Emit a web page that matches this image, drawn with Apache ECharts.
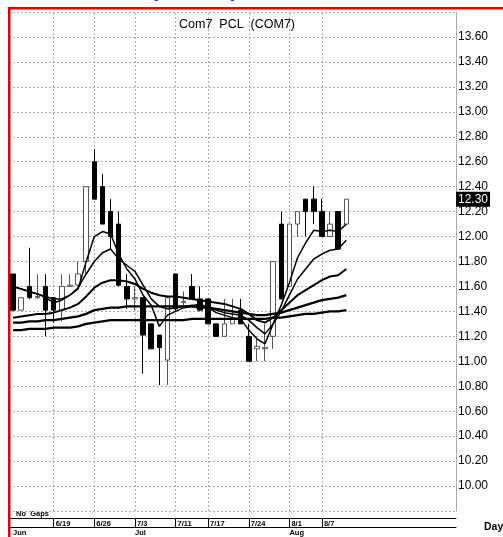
<!DOCTYPE html>
<html>
<head>
<meta charset="utf-8">
<script src="https://cdn.jsdelivr.net/npm/echarts@6/dist/echarts.min.js"></script>
<style>
  html, body { margin: 0; padding: 0; background: #fff; }
  #chart { width: 503px; height: 537px; }
</style>
</head>
<body>
<div id="chart"></div>
<script>
// trading days shown, then empty days to the right edge
const dates = ['6/12','6/13','6/14','6/15','6/16','6/19','6/20','6/21','6/22','6/23',
  '6/26','6/27','6/28','6/29','6/30','7/3','7/4','7/5','7/6','7/7',
  '7/11','7/12','7/13','7/14','7/17','7/18','7/19','7/20','7/21','7/24',
  '7/25','7/26','7/27','7/31','8/1','8/2','8/3','8/4','8/7','8/8','8/9','8/10'];
const padDates = ['8/11','8/15','8/16','8/17','8/18','8/21','8/22','8/23','8/24','8/25','8/28','8/29','8/30'];

const opens  = [11.70,11.41,11.60,11.51,11.60,11.51,11.41,11.60,11.61,11.80,
  12.60,12.40,12.20,12.10,11.60,11.50,11.51,11.30,11.21,11.01,
  11.70,11.47,11.60,11.50,11.50,11.30,11.20,11.30,11.41,11.20,
  11.10,11.10,11.20,12.10,11.60,12.10,12.30,12.30,12.20,12.00,12.20,12.10];
const closes = [11.41,11.51,11.51,11.52,11.41,11.41,11.60,11.61,11.70,12.40,
  12.30,12.10,12.00,11.61,11.50,11.51,11.21,11.10,11.11,11.51,
  11.42,11.48,11.50,11.41,11.30,11.20,11.30,11.34,11.30,11.00,
  11.12,11.11,11.80,11.50,12.10,12.20,12.20,12.20,12.00,12.10,11.90,12.30];
const lows   = [11.40,11.41,11.50,11.50,11.20,11.31,11.32,11.60,11.60,11.70,
  12.30,12.10,11.90,11.60,11.42,11.41,10.90,11.10,10.81,10.81,
  11.40,11.44,11.50,11.40,11.30,11.20,11.20,11.30,11.30,11.00,
  11.00,11.00,11.10,11.50,11.60,12.00,12.00,12.10,12.00,12.00,11.90,12.10];
const highs  = [11.70,11.51,11.91,11.70,11.70,11.51,11.70,11.70,11.80,12.40,
  12.70,12.50,12.30,12.20,11.70,11.60,11.51,11.30,11.21,11.51,
  11.70,11.56,11.70,11.60,11.50,11.30,11.50,11.50,11.50,11.30,
  11.20,11.30,11.80,12.20,12.10,12.20,12.30,12.40,12.30,12.20,12.20,12.30];

// moving average lines, fastest first
const ma1 = [11.60,11.58,11.56,11.54,11.51,11.47,11.49,11.53,11.58,11.80,
  12.00,12.04,12.02,11.86,11.74,11.66,11.53,11.45,11.28,11.37,
  11.40,11.43,11.44,11.46,11.43,11.39,11.37,11.35,11.34,11.25,
  11.18,11.14,11.30,11.45,11.63,11.83,11.95,12.05,12.04,12.05,12.04,12.10];
const ma2 = [11.60,11.58,11.56,11.54,11.52,11.50,11.50,11.53,11.59,11.70,
  11.80,11.87,11.90,11.82,11.77,11.72,11.61,11.50,11.44,11.42,
  11.43,11.44,11.45,11.45,11.43,11.41,11.39,11.38,11.37,11.33,
  11.27,11.22,11.30,11.40,11.53,11.66,11.74,11.82,11.86,11.89,11.90,11.97];
const ma3 = [11.35,11.36,11.37,11.38,11.38,11.39,11.41,11.43,11.46,11.52,
  11.59,11.63,11.65,11.65,11.64,11.62,11.58,11.55,11.53,11.52,
  11.52,11.51,11.50,11.49,11.48,11.47,11.46,11.44,11.42,11.38,
  11.33,11.31,11.35,11.41,11.47,11.53,11.57,11.61,11.65,11.68,11.69,11.74];
const ma4 = [11.31,11.31,11.32,11.32,11.33,11.33,11.34,11.35,11.36,11.38,
  11.41,11.42,11.43,11.43,11.44,11.44,11.44,11.44,11.44,11.44,
  11.44,11.44,11.44,11.43,11.43,11.42,11.41,11.40,11.39,11.38,
  11.37,11.37,11.38,11.39,11.41,11.43,11.45,11.47,11.49,11.50,11.51,11.53];
const ma5 = [11.25,11.25,11.26,11.26,11.26,11.27,11.27,11.27,11.28,11.30,
  11.31,11.32,11.33,11.33,11.33,11.33,11.33,11.33,11.33,11.33,
  11.33,11.33,11.34,11.34,11.34,11.34,11.34,11.34,11.34,11.34,
  11.34,11.34,11.35,11.35,11.36,11.37,11.38,11.38,11.39,11.40,11.40,11.41];

const tickDates = ['6/19','6/26','7/3','7/11','7/17','7/24','8/1','8/7'];
const months = { '6/12': 'Jun', '7/3': 'Jul', '8/1': 'Aug' };

const narrow = "'Liberation Sans Narrow', 'Liberation Sans', Arial, sans-serif";
const allDates = dates.concat(padDates);
const ohlc = opens.map((o, i) => [o, closes[i], lows[i], highs[i]]);
const lastClose = closes[closes.length - 1];

const chart = echarts.init(document.getElementById('chart'));

function maLine(data, width) {
  return {
    type: 'line',
    data: data,
    symbol: 'none',
    silent: true,
    lineStyle: { color: '#000', width: width },
    z: 3
  };
}

// week grid lines sit behind the candles
const weekLines = maLine(ma5, 2.3);
weekLines.markLine = {
  silent: true,
  z: 1,
  symbol: ['none', 'none'],
  animation: false,
  label: { show: false },
  lineStyle: { color: '#aaa', type: [2, 2], width: 1 },
  data: tickDates.map(d => ({ xAxis: d }))
};

const priceAxis = {
  type: 'value',
  position: 'right',
  min: 9.8,
  max: 13.8,
  interval: 0.2,
  axisLine: { show: true, lineStyle: { color: '#999', type: 'dotted' } },
  axisTick: { show: false },
  axisLabel: {
    margin: 2,
    fontFamily: narrow,
    fontSize: 12,
    color: '#000',
    formatter: v => (v < 9.99 || v > 13.7) ? '' : v.toFixed(2)
  },
  splitLine: { show: true, lineStyle: { color: '#aaa', type: [2, 2], width: 1 } }
};

// second right axis only used to flag the last close
const lastAxis = {
  type: 'value',
  position: 'right',
  min: 9.8,
  max: 13.8,
  interval: 0.1,
  axisLine: { show: false },
  axisTick: { show: false },
  splitLine: { show: false },
  axisLabel: {
    margin: 0,
    formatter: v => Math.abs(v - lastClose) < 0.001 ? '{p|' + v.toFixed(2) + '}' : '',
    rich: {
      p: {
        fontFamily: narrow,
        fontSize: 12,
        color: '#fff',
        backgroundColor: '#000',
        padding: [2, 2, 1, 2]
      }
    }
  }
};

chart.setOption({
  animation: false,
  backgroundColor: '#fff',
  title: {
    text: 'Com7  PCL  (COM7)',
    left: 232,
    top: 13,
    textAlign: 'center',
    textStyle: { fontFamily: narrow, fontSize: 12.5, fontWeight: 'normal', color: '#000' }
  },
  grid: { left: 9, top: 12, width: 447, height: 500 },
  xAxis: [
    {
      type: 'category',
      data: allDates,
      boundaryGap: true,
      offset: 7,
      axisLine: { onZero: false, lineStyle: { color: '#000', width: 1 } },
      axisTick: {
        show: true,
        alignWithLabel: true,
        length: 9,
        interval: (i, v) => tickDates.includes(v),
        lineStyle: { color: '#000' }
      },
      axisLabel: {
        interval: (i, v) => tickDates.includes(v),
        align: 'left',
        margin: 2,
        padding: [0, 0, 0, 2],
        fontFamily: narrow,
        fontSize: 7.5,
        fontWeight: 'bold',
        color: '#000'
      },
      splitLine: { show: false }
    },
    {
      type: 'category',
      data: allDates,
      boundaryGap: true,
      position: 'bottom',
      offset: 16,
      axisLine: { onZero: false, lineStyle: { color: '#000', width: 1 } },
      axisTick: { show: false },
      axisLabel: {
        interval: (i, v) => months[v] !== undefined,
        formatter: v => months[v] || '',
        align: 'left',
        margin: 2,
        fontFamily: narrow,
        fontSize: 7.5,
        fontWeight: 'bold',
        color: '#000'
      },
      splitLine: { show: false }
    }
  ],
  yAxis: [priceAxis, lastAxis],
  series: [
    {
      type: 'candlestick',
      data: ohlc,
      barWidth: 5,
      itemStyle: {
        color: '#fff',
        color0: '#000',
        borderColor: '#555',
        borderColor0: '#000',
        borderWidth: 1
      },
      z: 2
    },
    maLine(ma1, 1.5),
    maLine(ma2, 1.5),
    maLine(ma3, 2),
    maLine(ma4, 2.3),
    weekLines
  ],
  graphic: [
    { type: 'text', left: 16, top: 510,
      style: { text: 'No  Gaps', fontFamily: narrow, fontSize: 7.5, fontWeight: 'bold', fill: '#000' } },
    { type: 'text', left: 484, top: 522,
      style: { text: 'Day', fontFamily: narrow, fontSize: 10.5, fontWeight: 'bold', fill: '#000' } },
    { type: 'text', left: 150, top: -23,
      style: { text: '(COM7)', fontFamily: 'Liberation Sans, Arial, sans-serif', fontSize: 25, fontWeight: 'bold', fill: '#1a3cff' } },
    { type: 'rect', shape: { x: 8, y: 7, width: 495, height: 2.5 }, style: { fill: '#e00000' }, z: 10 },
    { type: 'rect', shape: { x: 8, y: 7, width: 2.5, height: 530 }, style: { fill: '#e00000' }, z: 10 }
  ]
});
</script>
</body>
</html>
